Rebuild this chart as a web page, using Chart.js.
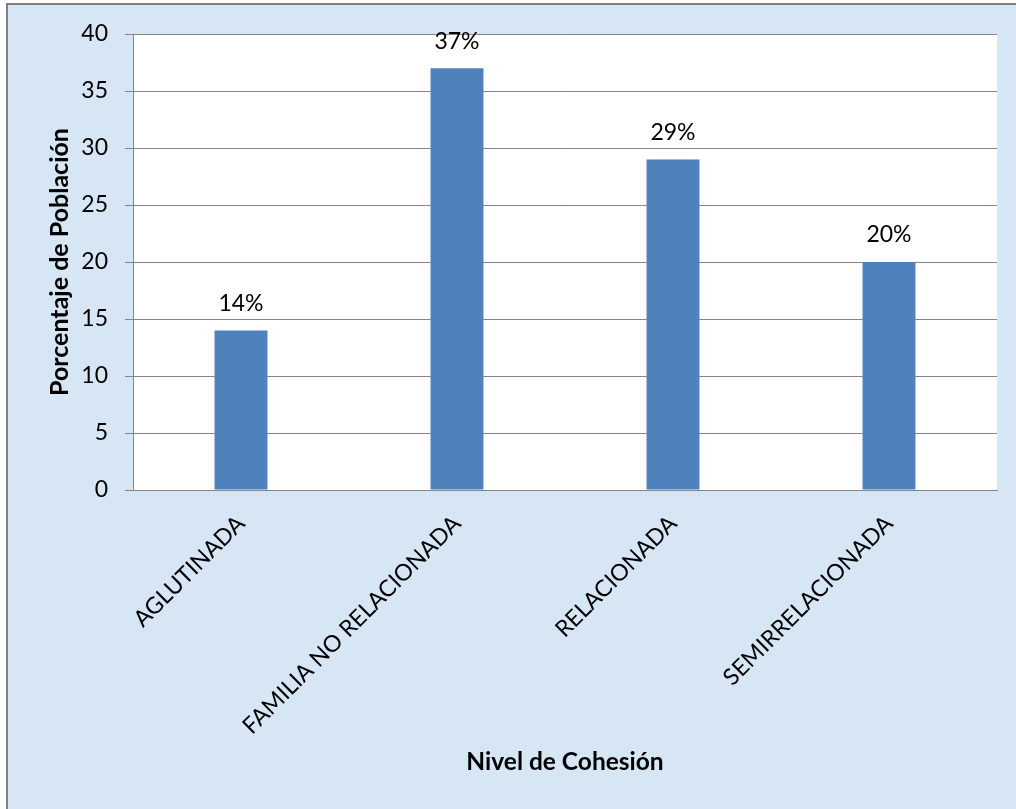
<!DOCTYPE html>
<html>
<head>
<meta charset="utf-8">
<title>Nivel de Cohesión</title>
<script src="https://cdn.jsdelivr.net/npm/chart.js@4/dist/chart.umd.min.js"></script>
<style>
  html, body { margin: 0; padding: 0; background: #fff; }
  #wrap { width: 1016px; height: 809px; position: relative; }
</style>
</head>
<body>
<div id="wrap"><canvas id="chart"></canvas></div>
<script>
// categorias y valores (porcentaje de poblacion)
const niveles = ['AGLUTINADA', 'FAMILIA NO RELACIONADA', 'RELACIONADA', 'SEMIRRELACIONADA'];
const porcentajes = [14, 37, 29, 20];
const yMin = 0;
const yMax = 40;
const yPaso = 5;

const fuente = "Lato, 'Noto Sans', sans-serif";
const gris = '#868686';

// fondo azul claro con borde gris y area de trazado blanca
const fondo = {
    id: 'fondo',
    beforeDraw(chart) {
        const {ctx, width, height, chartArea} = chart;
        ctx.save();
        ctx.fillStyle = '#ffffff';
        ctx.fillRect(0, 0, width, height);
        ctx.fillStyle = '#d7e6f5';
        ctx.fillRect(8, 5, width - 8, height - 5);
        ctx.fillStyle = '#7f7f7f';
        ctx.fillRect(6, 3, width - 6, 2);
        ctx.fillRect(6, 3, 2, height - 3);
        ctx.fillStyle = '#ffffff';
        ctx.fillRect(chartArea.left, chartArea.top, chartArea.right - chartArea.left, chartArea.bottom - chartArea.top);
        ctx.restore();
    }
};

// etiquetas de porcentaje encima de cada barra
const etiquetas = {
    id: 'etiquetas',
    afterDatasetsDraw(chart) {
        const {ctx} = chart;
        const meta = chart.getDatasetMeta(0);
        ctx.save();
        ctx.font = '23px ' + fuente;
        ctx.fillStyle = '#000';
        ctx.textAlign = 'center';
        ctx.textBaseline = 'middle';
        meta.data.forEach((bar, i) => {
            ctx.fillText(porcentajes[i] + '%', bar.x, bar.y - 27);
        });
        ctx.restore();
    }
};

new Chart(document.getElementById('chart'), {
    type: 'bar',
    data: {
        labels: niveles,
        datasets: [{
            data: porcentajes,
            backgroundColor: '#4f81bd',
            borderWidth: 0,
            barPercentage: 0.245,
            categoryPercentage: 1
        }]
    },
    options: {
        responsive: true,
        maintainAspectRatio: false,
        animation: false,
        devicePixelRatio: 1,
        layout: {padding: {top: 34, right: 19, bottom: 0, left: 0}},
        plugins: {
            legend: {display: false},
            tooltip: {enabled: false}
        },
        scales: {
            x: {
                grid: {display: false},
                border: {display: true, color: gris, width: 1},
                ticks: {
                    color: '#000',
                    font: {family: fuente, size: 23},
                    minRotation: 45,
                    maxRotation: 45,
                    padding: 12
                },
                title: {
                    display: true,
                    text: 'Nivel de Cohesión',
                    color: '#000',
                    font: {family: fuente, size: 24.5, weight: 'bold'},
                    padding: {top: 0, bottom: 32}
                },
                afterFit(scale) { scale.height = 319; }
            },
            y: {
                min: yMin,
                max: yMax,
                grid: {color: gris, lineWidth: 1, tickLength: 8, drawTicks: true},
                border: {display: true, color: gris, width: 1},
                ticks: {
                    stepSize: yPaso,
                    color: '#000',
                    font: {family: fuente, size: 23},
                    padding: 17
                },
                title: {
                    display: true,
                    text: 'Porcentaje de Población',
                    color: '#000',
                    font: {family: fuente, size: 25, weight: 'bold'},
                    padding: {top: 45, bottom: 0}
                },
                afterFit(scale) { scale.width = 133; }
            }
        }
    },
    plugins: [fondo, etiquetas]
});
</script>
</body>
</html>
